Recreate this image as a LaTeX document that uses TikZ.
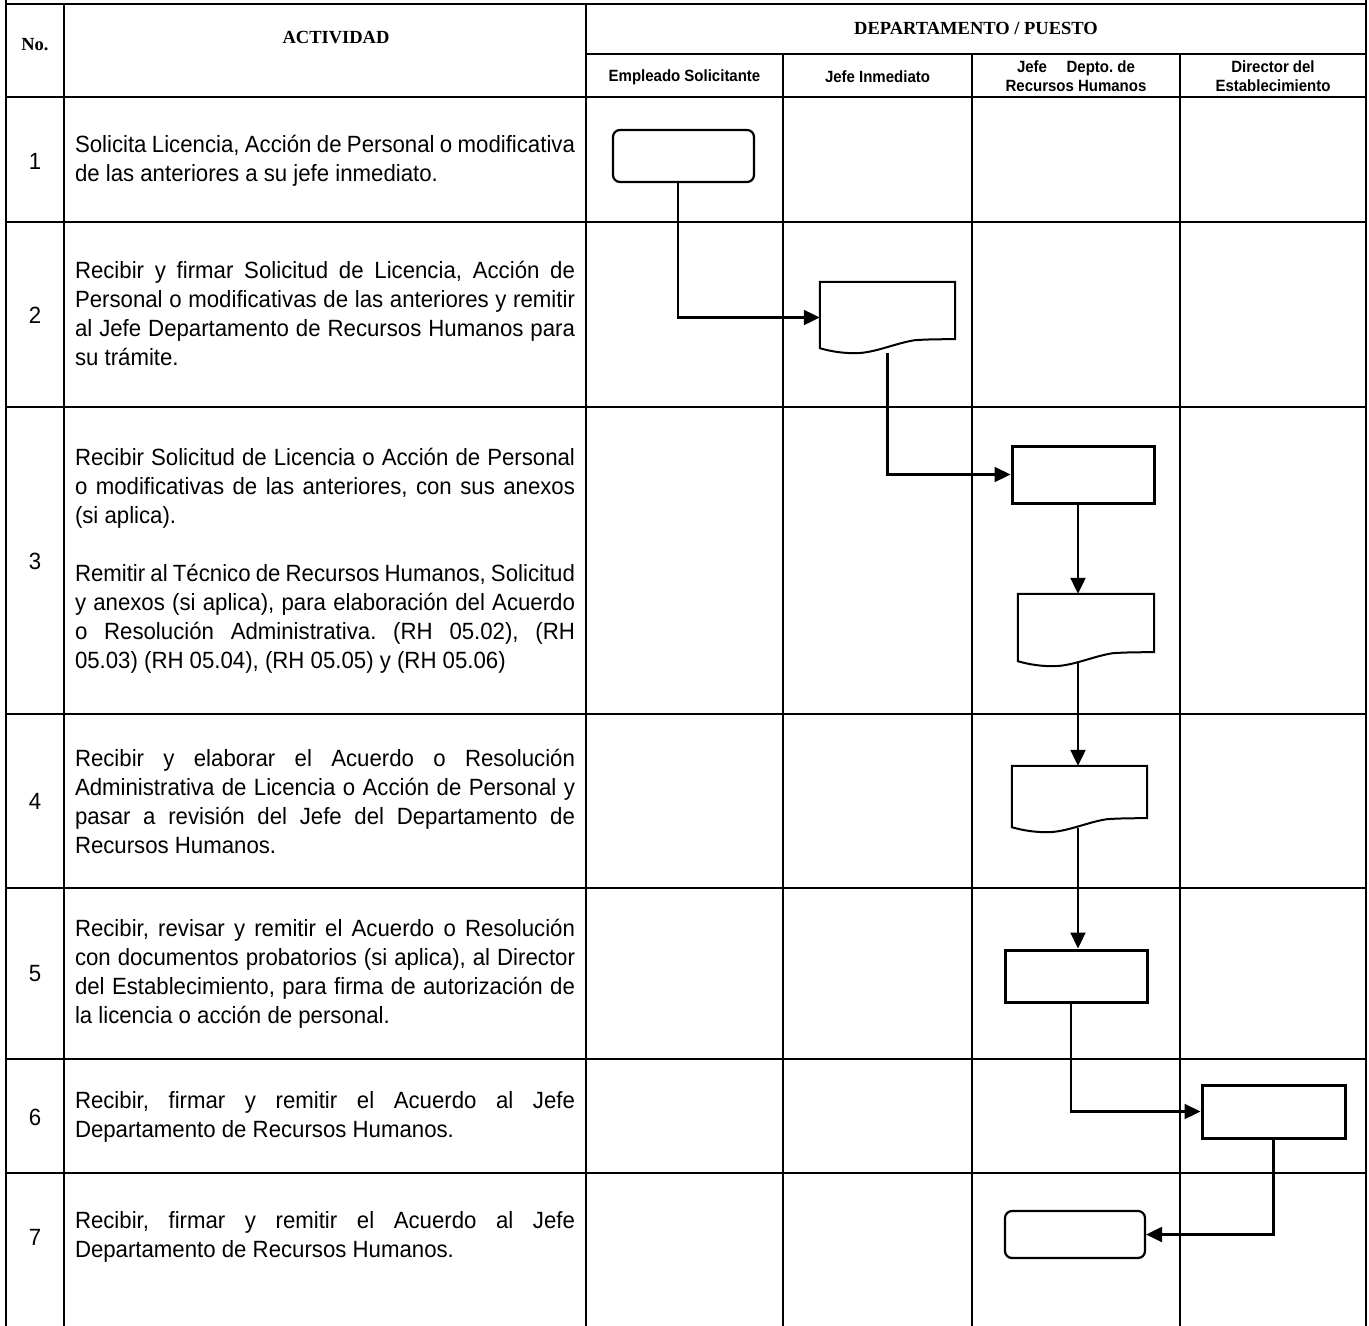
\documentclass[tikz,border=0pt]{standalone}
\usepackage{fontspec}
\setmainfont{Liberation Sans}
\newfontfamily\actfont{Liberation Sans}[FakeStretch=0.945]
\newfontfamily\hdfont{Liberation Serif}
\newfontfamily\subfont{Liberation Sans}[FakeStretch=0.92]
\usetikzlibrary{arrows.meta,calc}
\newcommand\docoutline[1]{%
  \draw[docline] (#1.north west) -- (#1.north east) -- ([yshift=14pt]#1.south east)
    .. controls ([xshift=-12pt,yshift=14pt]#1.south east) and ([xshift=108pt,yshift=14pt]#1.south west) .. ([xshift=95pt,yshift=13pt]#1.south west)
    .. controls ([xshift=75pt,yshift=10pt]#1.south west) and ([xshift=55pt]#1.south west) .. ([xshift=35pt]#1.south west)
    .. controls ([xshift=24pt]#1.south west) and ([xshift=12pt,yshift=1.5pt]#1.south west) .. ([yshift=5pt]#1.south west)
    -- cycle;}
\begin{document}
\tolerance=10000\relax
\frenchspacing
\begin{tikzpicture}[x=1pt,y=-1pt,
  gridline/.style={line width=2.8pt},
  act/.style={text width=500pt, align=justify, inner sep=0pt,
    font=\actfont\fontsize{23.5}{29}\selectfont},
  num/.style={inner sep=0pt, font=\actfont\fontsize{23.5}{29}\selectfont},
  hd/.style={inner sep=0pt, font=\hdfont\bfseries\fontsize{18.5}{20}\selectfont},
  sub/.style={inner sep=0pt, align=center, font=\subfont\bfseries\fontsize{16.3}{19}\selectfont},
  procbox/.style={draw, line width=3pt, inner sep=0pt},
  termbox/.style={draw, line width=2.2pt, rounded corners=7pt, inner sep=0pt},
  docbox/.style={inner sep=0pt},
  docline/.style={line width=2pt, line join=miter},
  conn/.style={line width=2.2pt, -{Triangle[length=16pt,width=15pt]}}
]
\useasboundingbox (0,0) rectangle (1369,1326);
% table grid
\draw[gridline] (6,0) -- (6,1326);
\draw[gridline] (1366,0) -- (1366,1326);
\draw[gridline] (64,4) -- (64,1326);
\draw[gridline] (586,4) -- (586,1326);
\draw[gridline] (783,54) -- (783,1326);
\draw[gridline] (972,54) -- (972,1326);
\draw[gridline] (1180,54) -- (1180,1326);
\draw[gridline] (6,4) -- (1366,4);
\draw[gridline] (586,54) -- (1366,54);
\foreach \yy in {97,222,407,714,888,1059,1173} \draw[gridline] (6,\yy) -- (1366,\yy);
% header
\node[hd] (hno) at (35,45) {No.};
\node[hd] (hact) at (336,38) {ACTIVIDAD};
\node[hd] (hdep) at (976,28) {DEPARTAMENTO / PUESTO};
\node[sub] (h1) at (684.5,77) {Empleado Solicitante};
\node[sub] (h2) at (877.5,77) {Jefe Inmediato};
\node[sub] (h3) at (1076,76) {Jefe\hspace{1.2em}Depto. de\\Recursos Humanos};
\node[sub] (h4) at (1273,76) {Director del\\Establecimiento};
% numbers
\node[num] (n1) at (35,161) {1};
\node[num] (n2) at (35,315) {2};
\node[num] (n3) at (35,561) {3};
\node[num] (n4) at (35,801) {4};
\node[num] (n5) at (35,974) {5};
\node[num] (n6) at (35,1117) {6};
\node[num] (n7) at (35,1237) {7};
% activities
\node[act] (a1) at (325,161) {Solicita Licencia, Acción de Personal o modificativa\linebreak de las anteriores a su jefe inmediato.};
\node[act] (a2) at (325,313) {Recibir y firmar Solicitud de Licencia, Acción de\linebreak Personal o modificativas de las anteriores y remitir\linebreak al Jefe Departamento de Recursos Humanos para\linebreak su trámite.};
\node[act] (a3) at (325,561) {Recibir Solicitud de Licencia o Acción de Personal\linebreak o modificativas de las anteriores, con sus anexos\linebreak (si aplica).\par\strut\par Remitir al Técnico de Recursos Humanos, Solicitud\linebreak y anexos (si aplica), para elaboración del Acuerdo\linebreak o Resolución Administrativa. (RH 05.02), (RH\linebreak 05.03) (RH 05.04), (RH 05.05) y (RH 05.06)};
\node[act] (a4) at (325,801) {Recibir y elaborar el Acuerdo o Resolución\linebreak Administrativa de Licencia o Acción de Personal y\linebreak pasar a revisión del Jefe del Departamento de\linebreak Recursos Humanos.};
\node[act] (a5) at (325,974) {Recibir, revisar y remitir el Acuerdo o Resolución\linebreak con documentos probatorios (si aplica), al Director\linebreak del Establecimiento, para firma de autorización de\linebreak la licencia o acción de personal.};
\node[act] (a6) at (325,1117) {Recibir, firmar y remitir el Acuerdo al Jefe\linebreak Departamento de Recursos Humanos.};
\node[act] (a7) at (325,1237) {Recibir, firmar y remitir el Acuerdo al Jefe\linebreak Departamento de Recursos Humanos.};
% flow shapes
\node[termbox, minimum width=141pt, minimum height=52pt] (s1) at (683.5,156) {};
\node[docbox, minimum width=135pt, minimum height=71pt] (d2) at (887.5,317.5) {};
\node[procbox, minimum width=142pt, minimum height=57pt] (r3) at (1083,474.5) {};
\node[docbox, minimum width=136pt, minimum height=72pt] (d3) at (1086,630) {};
\node[docbox, minimum width=135pt, minimum height=66pt] (d4) at (1079.5,799) {};
\node[procbox, minimum width=142pt, minimum height=52pt] (r5) at (1076,976) {};
\node[procbox, minimum width=143pt, minimum height=53pt] (r6) at (1273.5,1111.5) {};
\node[termbox, minimum width=140pt, minimum height=47pt] (t7) at (1075,1234.5) {};
\docoutline{d2}
\docoutline{d3}
\docoutline{d4}
\coordinate (cx) at (1078,0);
% connectors
\draw[conn] ([xshift=-5.5pt]s1.south) |- (d2.west);
\draw[conn] (d2.south) |- (r3.west);
\draw[conn] (r3.south -| cx) -- (d3.north -| cx);
\draw[conn] ($(d3.south -| cx)+(0pt,4pt)$) -- (d4.north -| cx);
\draw[conn] ($(d4.south -| cx)+(0pt,4pt)$) -- (r5.north -| cx);
\draw[conn] ([xshift=-5pt]r5.south) |- (r6.west);
\draw[conn] (r6.south) |- (t7.east);
\end{tikzpicture}
\end{document}
